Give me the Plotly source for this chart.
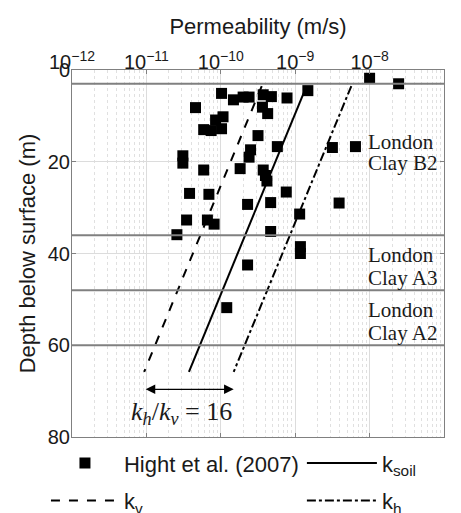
import plotly.graph_objects as go
import numpy as np

# Data (Hight et al. 2007): permeability (log10 m/s) and depth (m)
hight_k_log = [-9.99, -9.83, -9.70, -9.62, -9.43, -9.32, -9.11, -8.83,
               -10.34, -9.44, -9.37, -9.97, -10.07, -10.23, -10.13, -9.99,
               -10.51, -10.51, -10.23, -9.74, -9.50, -9.24, -9.60, -9.62,
               -9.43, -9.40, -9.38, -10.42, -10.16, -9.12, -9.64, -9.33,
               -8.94, -10.46, -10.18, -10.09, -10.59, -9.33, -8.93, -8.93,
               -9.64, -9.92, -8.50, -8.19, -8.41, -8.00, -7.61]
hight_depth = [5.1, 6.5, 5.9, 5.9, 5.4, 5.8, 6.1, 4.5,
               8.2, 8.1, 9.5, 10.2, 10.9, 13.0, 13.2, 12.8,
               18.7, 20.3, 21.8, 21.5, 14.3, 16.7, 17.4, 19.0,
               21.8, 23.0, 24.2, 26.9, 27.1, 26.6, 29.3, 28.9,
               31.4, 32.7, 32.7, 33.6, 35.9, 35.2, 38.5, 40.0,
               42.5, 51.8, 16.9, 16.7, 29.0, 1.8, 3.0]
hight_k = [10 ** v for v in hight_k_log]

line_depth = [3.5, 65.8]
k_v = [3.55e-10, 9.33e-12]
k_soil = [1.42e-9, 3.73e-11]
k_h = [5.68e-9, 1.49e-10]

layer_depths = [3, 36, 48, 60]
layer_label_lines = ["London", "Clay B2", "London", "Clay A3", "London", "Clay A2"]
layer_label_depth = [15.6, 20.2, 40.4, 45.3, 52.4, 57.3]

x_tickvals = [1e-12, 1e-11, 1e-10, 1e-9, 1e-8, 1e-7]
x_exponents = ["\u221212", "\u221211", "\u221210", "\u22129", "\u22128", "\u22127"]
y_tickvals = [0, 20, 40, 60, 80]

ratio_arrow_depth = 69.6
ratio_label_depth = 74.7
ratio_label = "<i>k<sub>h</sub></i>/<i>k<sub>v</sub></i> = 16"

SANS = "Liberation Sans, Arial, sans-serif"
SERIF = "Liberation Serif, Times New Roman, serif"
TXT = "#1a1a1a"

x_ticktext = ["10<sup>%s</sup>" % e for e in x_exponents]

fig = go.Figure()

fig.add_trace(go.Scatter(x=hight_k, y=hight_depth, mode="markers",
                         marker=dict(symbol="square", size=11, color="black"),
                         name="Hight et al. (2007)", legend="legend",
                         legendgroup="a"))
fig.add_trace(go.Scatter(x=k_soil, y=line_depth, mode="lines",
                         line=dict(color="black", width=2, dash="solid"),
                         name="k<sub>soil</sub>", legend="legend2",
                         legendgroup="b"))
fig.add_trace(go.Scatter(x=k_v, y=line_depth, mode="lines",
                         line=dict(color="black", width=2, dash="dash"),
                         name="k<sub>v</sub>", legend="legend",
                         legendgroup="c"))
fig.add_trace(go.Scatter(x=k_h, y=line_depth, mode="lines",
                         line=dict(color="black", width=2, dash="dashdot"),
                         name="k<sub>h</sub>", legend="legend2",
                         legendgroup="d"))

for d in layer_depths:
    fig.add_shape(type="line", xref="paper", x0=0, x1=1, yref="y", y0=d, y1=d,
                  line=dict(color="#808080", width=2), layer="above")

for name, d in zip(layer_label_lines, layer_label_depth):
    fig.add_annotation(x=-8.05, y=d, xref="x", yref="y", text=name,
                       showarrow=False, xanchor="left", align="left",
                       font=dict(family=SERIF, size=21, color=TXT))

# double-headed arrow between k_v and k_h at the bottom
fig.add_annotation(x=np.log10(k_h[1]), y=ratio_arrow_depth,
                   ax=np.log10(k_v[1]), ay=ratio_arrow_depth,
                   xref="x", yref="y", axref="x", ayref="y", text="",
                   showarrow=True, arrowhead=2, startarrowhead=2,
                   arrowside="end+start", arrowsize=1.6, startarrowsize=1.6,
                   arrowwidth=1.2, arrowcolor="black")
fig.add_annotation(x=(np.log10(k_h[1]) + np.log10(k_v[1])) / 2 - 0.1,
                   y=ratio_label_depth, xref="x", yref="y", text=ratio_label,
                   showarrow=False, font=dict(family=SERIF, size=26, color=TXT))

fig.update_xaxes(type="log", range=[-12, -7], side="top",
                 tickvals=x_tickvals, ticktext=x_ticktext,
                 tickfont=dict(family=SANS, size=20, color=TXT),
                 ticklabelstandoff=-8,
                 title=dict(text="Permeability (m/s)", standoff=6,
                            font=dict(family=SANS, size=22, color=TXT)),
                 showgrid=True, gridcolor="#dcdcdc", gridwidth=1,
                 minor=dict(showgrid=True, gridcolor="#e0e0e0", griddash="dot",
                            dtick="D1", ticks=""),
                 showline=True, linecolor="#808080", linewidth=1, mirror="ticks",
                 ticks="inside", ticklen=4, tickcolor="#808080", zeroline=False,
                 automargin=False)
fig.update_yaxes(range=[80, 0], tickvals=y_tickvals,
                 tickfont=dict(family=SANS, size=20, color=TXT),
                 ticklabelstandoff=-3,
                 title=dict(text="Depth below surface (m)", standoff=6,
                            font=dict(family=SANS, size=22, color=TXT)),
                 showgrid=True, gridcolor="#dcdcdc", gridwidth=1,
                 showline=True, linecolor="#808080", linewidth=1, mirror="ticks",
                 ticks="inside", ticklen=4, tickcolor="#808080", zeroline=False,
                 automargin=False)

legend_common = dict(orientation="v", xanchor="left", yanchor="top",
                     bgcolor="rgba(0,0,0,0)", tracegroupgap=6,
                     font=dict(family=SANS, size=22, color=TXT))

# the page body adds an 8 px offset, so the figure is 8 px smaller than the window
fig.update_layout(width=453, height=505,
                  margin=dict(l=64, r=17, t=62, b=76, autoexpand=False),
                  paper_bgcolor="white", plot_bgcolor="white",
                  font=dict(family=SANS, color=TXT),
                  legend=dict(x=-0.070, y=-0.014, itemwidth=68, **legend_common),
                  legend2=dict(x=0.618, y=-0.014, itemwidth=70, **legend_common))

fig.write_html("out.html")
